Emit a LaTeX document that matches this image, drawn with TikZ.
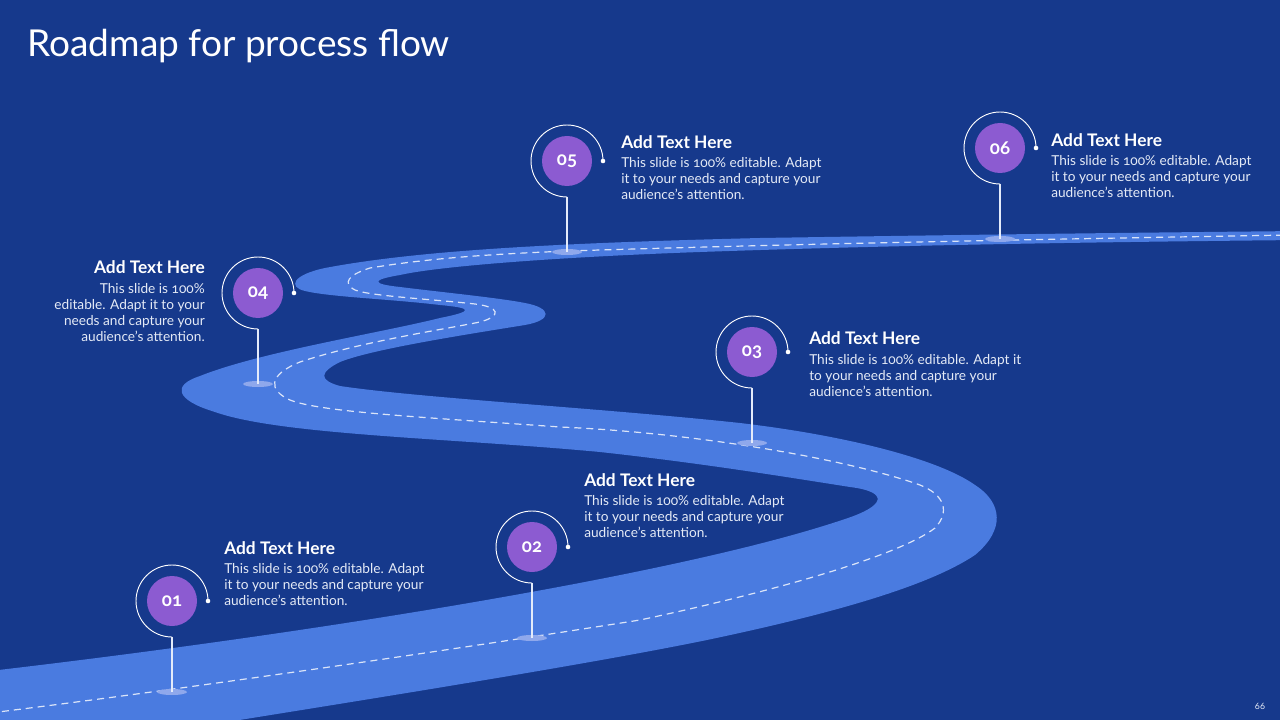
\documentclass[tikz,border=0pt]{standalone}
\usepackage{fontspec}
\setmainfont{Lato}[Numbers=OldStyle]
\definecolor{bg}{HTML}{16398C}
\definecolor{road}{HTML}{4A7BE0}
\definecolor{purp}{HTML}{8C5BD1}
\definecolor{txt}{HTML}{E4EAF6}
\definecolor{pinbase}{HTML}{8FA8EC}
\begin{document}
\begin{tikzpicture}[x=0.75pt,y=-0.75pt,
  num/.style={circle,fill=purp,minimum size=37.5pt,inner sep=0,text=white,font=\bfseries\fontsize{14}{15}\selectfont},
  ring/.style={draw=white,line width=0.7pt},
  stem/.style={draw=white!85!road,line width=1pt},
  hd/.style={font=\bfseries\fontsize{13}{15}\selectfont,text=white,inner sep=0,anchor=north west},
  bd/.style={font=\fontsize{10.25}{12}\selectfont,text=txt,inner sep=0,align=left,anchor=north west},
  centerline/.style={draw=white,opacity=0.8,line width=0.9pt,dash pattern=on 5.25pt off 3.75pt}]
\useasboundingbox (0,0) rectangle (1280,720);
\fill[bg] (0,0) rectangle (1280,720);
\begin{scope}
\clip (0,0) rectangle (1280,720);
% road band
\fill[road] (-10,671)
  .. controls (300,635) and (680,575) .. (845,519)
  .. controls (885,506) and (890,492) .. (850,487)
  .. controls (780,476) and (700,463) .. (600,452)
  .. controls (450,438) and (280,435) .. (215,412)
  .. controls (175,400) and (172,385) .. (200,376)
  .. controls (260,352) and (380,333) .. (440,318)
  .. controls (475,311) and (472,308) .. (440,305)
  .. controls (390,299) and (330,297) .. (305,291)
  .. controls (288,287) and (292,275) .. (325,268)
  .. controls (420,250) and (560,243) .. (760,238)
  .. controls (950,235) and (1100,233) .. (1300,231)
  -- (1300,240)
  .. controls (1100,242) and (900,245) .. (700,252)
  .. controls (560,257) and (440,266) .. (400,275)
  .. controls (370,280) and (372,284) .. (400,287)
  .. controls (440,292) and (500,298) .. (525,303)
  .. controls (552,308) and (553,320) .. (525,325)
  .. controls (450,337) and (370,350) .. (340,362)
  .. controls (320,372) and (318,380) .. (340,386)
  .. controls (420,398) and (600,408) .. (740,423)
  .. controls (850,436) and (940,460) .. (975,485)
  .. controls (1003,503) and (1005,530) .. (975,555)
  .. controls (930,585) and (840,612) .. (707,640)
  .. controls (560,670) and (300,710) .. (-10,760)
  -- cycle;
% dashed centre line
\draw[centerline] (-10,713)
  .. controls (200,687) and (450,650) .. (640,620)
  .. controls (780,590) and (900,555) .. (935,528)
  .. controls (950,512) and (945,495) .. (920,485)
  .. controls (850,460) and (700,433) .. (560,427)
  .. controls (420,417) and (320,412) .. (290,400)
  .. controls (268,390) and (268,375) .. (300,362)
  .. controls (360,342) and (440,330) .. (480,322)
  .. controls (502,316) and (500,307) .. (475,304)
  .. controls (430,299) and (370,296) .. (355,290)
  .. controls (342,283) and (348,275) .. (370,268)
  .. controls (430,258) and (500,253) .. (600,250)
  .. controls (800,244) and (1000,240) .. (1290,235);
\end{scope}
\foreach \n/\cx/\cy in {01/172/601,02/532/547,03/752/352,04/258/293,05/567/161,06/1000/148}{
  \node[num] (m\n) at (\cx,\cy) {\n};
  \coordinate (r\n) at (\cx,\cy+36);
  \coordinate (b\n) at (\cx,\cy+91);
  \fill[pinbase] (b\n) ellipse [x radius=15, y radius=3];
  \draw[ring] (\cx+36,\cy) arc[start angle=0,end angle=-270,radius=36];
  \fill[white] (\cx+36,\cy) circle (2.3);
  \draw[stem] (r\n) -- (b\n);
}
\node[font=\fontsize{27.8}{32}\selectfont,text=white,anchor=base west,inner sep=0] (title) at (27,57) {Roadmap for process flow};
\node[hd] (h1) at (224,541.5) {Add Text Here};
\node[bd] (t1) at (224,563) {This slide is 100\% editable. Adapt\\it to your needs and capture your\\audience's attention.};
\node[hd] (h2) at (584,473.5) {Add Text Here};
\node[bd] (t2) at (584,495) {This slide is 100\% editable. Adapt\\it to your needs and capture your\\audience's attention.};
\node[hd] (h3) at (809,331.5) {Add Text Here};
\node[bd] (t3) at (809,354) {This slide is 100\% editable. Adapt it\\to your needs and capture your\\audience's attention.};
\node[hd,anchor=north east] (h4) at (205,260.5) {Add Text Here};
\node[bd,anchor=north east,align=right] (t4) at (205,283) {This slide is 100\%\\editable. Adapt it to your\\needs and capture your\\audience's attention.};
\node[hd] (h5) at (621,135.5) {Add Text Here};
\node[bd] (t5) at (621,157) {This slide is 100\% editable. Adapt\\it to your needs and capture your\\audience's attention.};
\node[hd] (h6) at (1051,133.5) {Add Text Here};
\node[bd] (t6) at (1051,155) {This slide is 100\% editable. Adapt\\it to your needs and capture your\\audience's attention.};
\node[font=\addfontfeatures{Numbers=Lining}\fontsize{6.5}{8}\selectfont,text=txt] (pg) at (1260,706) {66};
\end{tikzpicture}
\end{document}
